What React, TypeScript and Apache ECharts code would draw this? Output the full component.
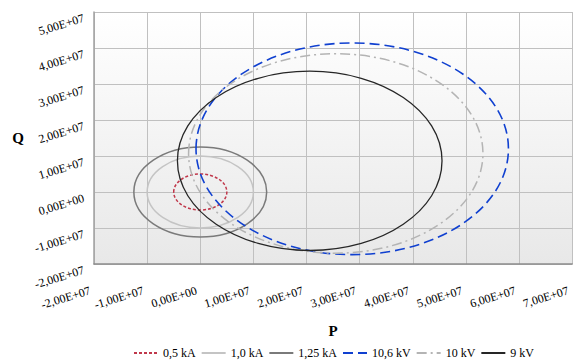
import React, { useEffect, useRef } from "react";
import * as echarts from "echarts";

// Tick values / labels
const X_MIN = -2e7;
const X_MAX = 7e7;
const Y_MIN = -2e7;
const Y_MAX = 5e7;
const STEP = 1e7;
const xTickLabels = [
  "-2,00E+07", "-1,00E+07", "0,00E+00", "1,00E+07", "2,00E+07",
  "3,00E+07", "4,00E+07", "5,00E+07", "6,00E+07", "7,00E+07",
];
const yTickLabels = [
  "-2,00E+07", "-1,00E+07", "0,00E+00", "1,00E+07", "2,00E+07",
  "3,00E+07", "4,00E+07", "5,00E+07",
];

// Series: circles in the P-Q plane (center P, center Q, radius)
const seriesNames = ["0,5 kA", "1,0 kA", "1,25 kA", "10,6 kV", "10 kV", "9 kV"];
const centerP = [0, 0, 0, 2.86e7, 2.55e7, 2.06e7];
const centerQ = [0, 0, 0, 1.2e7, 1.07e7, 0.865e7];
const radius = [0.5e7, 1.0e7, 1.25e7, 2.94e7, 2.77e7, 2.49e7];

const colors = ["#c0384b", "#c4c4c4", "#7a7a7a", "#1040d0", "#b4b4b4", "#262626"];
const dashes: (number[] | null)[] = [[3, 2], null, null, [10, 5], [10, 4, 2, 4], null];
const widths = [1.5, 1.5, 1.5, 1.6, 1.5, 1.3];

const FONT = "Liberation Serif";

export default function App() {
  const ref = useRef<HTMLDivElement>(null);
  useEffect(() => {
    if (!ref.current) return;
    const chart = echarts.init(ref.current, undefined, { renderer: "svg" });

    const legendSeries = seriesNames.map((name, i) => ({
      name,
      type: "line",
      data: [],
      symbol: "none",
      lineStyle: { color: colors[i], width: widths[i], type: dashes[i] ? dashes[i] : "solid" },
      itemStyle: { color: colors[i], opacity: 0 },
    }));

    const circleSeries = seriesNames.map((name, i) => ({
      name,
      type: "custom",
      data: [[centerP[i], centerQ[i], radius[i]]],
      encode: { x: 0, y: 1 },
      renderItem: (params: any, api: any) => {
        const c = api.coord([api.value(0), api.value(1)]);
        const s = api.size([api.value(2), api.value(2)]);
        return {
          type: "ellipse",
          shape: { cx: c[0], cy: c[1], rx: s[0], ry: s[1] },
          style: {
            fill: "none",
            stroke: colors[i],
            lineWidth: widths[i],
            lineDash: dashes[i] ? dashes[i] : null,
          },
        };
      },
    }));

    chart.setOption({
      animation: false,
      backgroundColor: "#ffffff",
      textStyle: { fontFamily: FONT },
      grid: {
        left: 94,
        top: 12,
        width: 480,
        height: 252,
        show: true,
        borderWidth: 0,
        backgroundColor: new echarts.graphic.LinearGradient(0, 0, 0, 1, [
          { offset: 0, color: "#ffffff" },
          { offset: 1, color: "#e8e8e8" },
        ]),
      },
      legend: {
        left: 128,
        top: 342,
        itemWidth: 24,
        itemHeight: 14,
        itemGap: 5,
        data: seriesNames,
        itemStyle: { opacity: 0 },
        textStyle: { fontFamily: FONT, fontSize: 12, color: "#000" },
        selectedMode: false,
      },
      xAxis: {
        type: "value",
        min: X_MIN,
        max: X_MAX,
        interval: STEP,
        name: "P",
        nameLocation: "middle",
        nameGap: 59,
        nameTextStyle: { fontFamily: FONT, fontSize: 15, fontWeight: "bold", color: "#000" },
        axisLine: { show: true, onZero: false, lineStyle: { color: "#8c8c8c", width: 1.5 } },
        axisTick: { show: false },
        splitLine: { show: true, lineStyle: { color: "#c0c0c0", width: 1 } },
        axisLabel: {
          rotate: 17,
          margin: 25,
          padding: [0, 4, 0, 0],
          fontFamily: FONT,
          fontSize: 12,
          color: "#000",
          showMinLabel: true,
          showMaxLabel: true,
          formatter: (v: number) => xTickLabels[Math.round((v - X_MIN) / STEP)] ?? "",
        },
      },
      yAxis: {
        type: "value",
        min: Y_MIN,
        max: Y_MAX,
        interval: STEP,
        name: "Q",
        nameLocation: "middle",
        nameGap: 70,
        nameRotate: 0,
        nameTextStyle: { fontFamily: FONT, fontSize: 15, fontWeight: "bold", color: "#000" },
        axisLine: { show: true, onZero: false, lineStyle: { color: "#a0a0a0", width: 1.5 } },
        axisTick: { show: false },
        splitLine: { show: true, lineStyle: { color: "#c0c0c0", width: 1 } },
        axisLabel: {
          rotate: 17,
          margin: 12,
          verticalAlign: "top",
          fontFamily: FONT,
          fontSize: 12,
          color: "#000",
          showMinLabel: true,
          showMaxLabel: true,
          formatter: (v: number) => yTickLabels[Math.round((v - Y_MIN) / STEP)] ?? "",
        },
      },
      series: [...legendSeries, ...circleSeries],
    });

    return () => chart.dispose();
  }, []);

  return (
    <div
      ref={ref}
      style={{ position: "absolute", left: 0, top: 0, width: 573, height: 360 }}
    />
  );
}
